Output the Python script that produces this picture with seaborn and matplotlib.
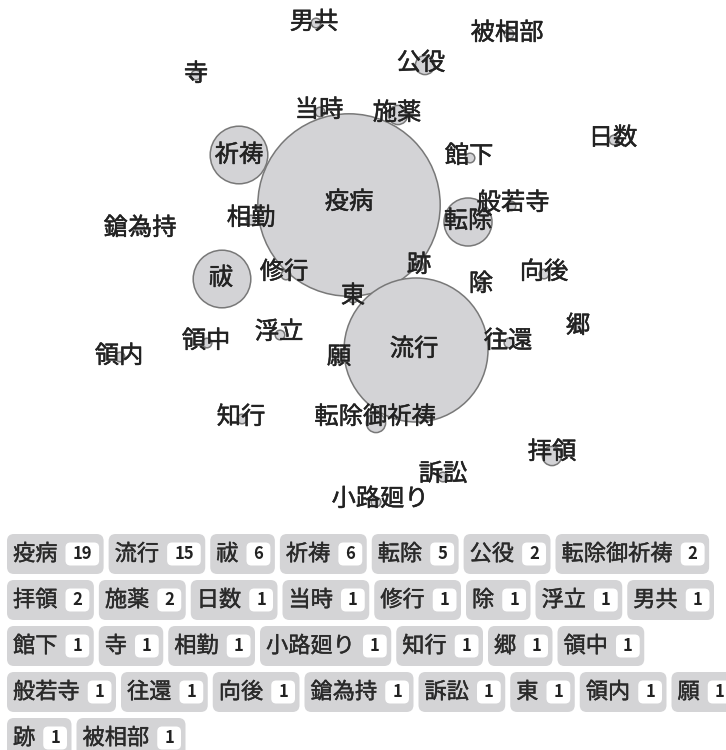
import pandas as pd
import matplotlib.pyplot as plt
import matplotlib.patheffects as pe
from matplotlib.patches import FancyBboxPatch
import seaborn as sns

# word frequencies (tag order = descending count)
words = ["疫病", "流行", "祓", "祈祷", "転除", "公役", "転除御祈祷", "拝領", "施薬",
         "日数", "当時", "修行", "除", "浮立", "男共", "館下", "寺", "相勤", "小路廻り",
         "知行", "郷", "領中", "般若寺", "往還", "向後", "鎗為持", "訴訟", "東", "領内",
         "願", "跡", "被相部"]
counts = [19, 15, 6, 6, 5, 2, 2, 2, 2,
          1, 1, 1, 1, 1, 1, 1, 1, 1, 1,
          1, 1, 1, 1, 1, 1, 1, 1, 1, 1,
          1, 1, 1]

# bubble layout (pixels)
node_x = [349, 416, 222, 239, 468, 425, 376, 552, 398,
          614, 320, 286, 481, 280, 316, 470, 196, 251, 376,
          242, 578, 207, 511, 509, 544, 140, 443, 353, 120,
          339, 419, 509]
node_y = [205, 350, 279, 155, 222, 65, 423, 456, 115,
          140, 112, 275, 285, 335, 23, 158, 75, 220, 502,
          419, 327, 343, 206, 343, 274, 229, 477, 298, 357,
          358, 266, 34]
label_x = [349, 414, 221, 239, 468, 421, 375, 552, 397,
           613, 319, 284, 481, 279, 314, 469, 196, 251, 380,
           241, 578, 206, 513, 508, 544, 140, 443, 353, 119,
           339, 419, 507]
label_y = [202, 349, 278, 155, 221, 63, 417, 452, 113,
           138, 110, 272, 284, 332, 22, 156, 74, 218, 499,
           417, 326, 341, 203, 341, 272, 228, 474, 296, 356,
           357, 265, 33]

sns.set_theme(style="white")
plt.rcParams['font.family'] = ['Noto Sans CJK JP', 'DejaVu Sans']

W, H = 726, 750
fig = plt.figure(figsize=(W / 100, H / 100), dpi=100)
ax = fig.add_axes([0, 0, 1, 1])

df = pd.DataFrame({'word': words, 'count': counts, 'x': node_x, 'y': node_y})

# radius grows linearly with count, ~4.8 px per occurrence
px_per_count = 4.8
size_map = {c: (2 * px_per_count * c * 72 / 100) ** 2 for c in sorted(set(counts))}
sns.scatterplot(data=df, x='x', y='y', size='count', sizes=size_map, legend=False,
                color='#d3d3d6', edgecolor='#787878', linewidth=1.1, alpha=1,
                ax=ax, zorder=2)

thick = [pe.withStroke(linewidth=0.35, foreground='#222222')]
for w, lx, ly in zip(words, label_x, label_y):
    ax.text(lx, ly, w, fontsize=17.5, ha='center', va='center', color='#222222',
            zorder=3, path_effects=thick)

ax.set_xlim(0, W)
ax.set_ylim(H, 0)
ax.axis('off')

# -------------------------------
# tag list with count badges (the list is a bit wider than the picture)
renderer = fig.canvas.get_renderer()


def text_width(s, **kw):
    t = ax.text(0, 0, s, **kw)
    wd = t.get_window_extent(renderer).width
    t.remove()
    return wd


x, y = 7, 534
for w, c in zip(words, counts):
    tw = text_width(w, fontsize=16)
    bw = text_width(str(c), fontsize=12, fontweight='bold') + 14
    tag_w = 6 + tw + 8 + bw + 4.5
    if x + tag_w > 745:
        x = 7
        y += 46
    ax.add_patch(FancyBboxPatch((x, y), tag_w, 40, boxstyle='round,pad=0,rounding_size=7',
                                fc='#d4d4d6', ec='none', zorder=1))
    ax.text(x + 6, y + 20, w, fontsize=16, ha='left', va='center', color='#2a2a2a',
            zorder=3, path_effects=[pe.withStroke(linewidth=0.3, foreground='#2a2a2a')])
    bx = x + 6 + tw + 8
    ax.add_patch(FancyBboxPatch((bx, y + 8.5), bw, 23, boxstyle='round,pad=0,rounding_size=5',
                                fc='white', ec='none', zorder=2))
    ax.text(bx + bw / 2, y + 20, str(c), fontsize=12, fontweight='bold', ha='center',
            va='center', color='#222222', zorder=3)
    x += tag_w + 5

fig.savefig("out.png", dpi=100)
plt.close()
